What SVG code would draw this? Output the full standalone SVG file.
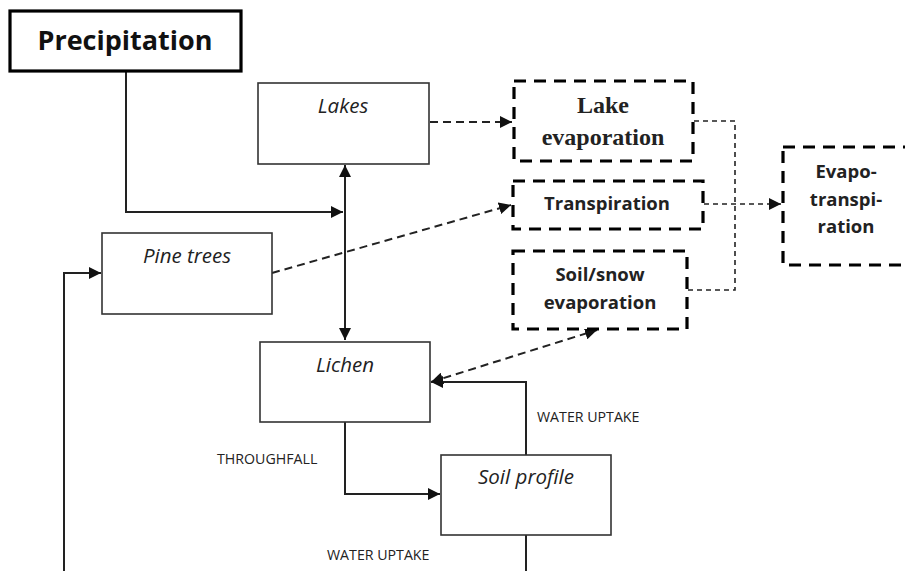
<svg xmlns="http://www.w3.org/2000/svg" width="905" height="571" viewBox="0 0 905 571">
<style>
.box{fill:#fff;stroke:#333;stroke-width:1.6}
.bold{fill:#fff;stroke:#000;stroke-width:3.2}
.dbox{fill:#fff;stroke:#000;stroke-width:3.2;stroke-dasharray:12 8}
.it{font-family:"Open Sans","Liberation Sans",sans-serif;font-style:italic;font-size:20.5px;fill:#222;text-anchor:middle}
.bs{font-family:"Open Sans","Liberation Sans",sans-serif;font-weight:bold;font-size:18.5px;fill:#222;text-anchor:middle}
.bt{font-family:"Liberation Serif",serif;font-weight:bold;font-size:24px;fill:#222;text-anchor:middle}
.lbl{font-family:"Open Sans","Liberation Sans",sans-serif;font-size:14.2px;fill:#222}
.ln{fill:none;stroke:#222;stroke-width:2}
.dl{fill:none;stroke:#222;stroke-width:2;stroke-dasharray:8 5}
.tl{fill:none;stroke:#222;stroke-width:1.6;stroke-dasharray:5 4}
</style>
<defs>
<marker id="ah" viewBox="0 0 10 10" refX="10" refY="5" markerWidth="12" markerHeight="12" markerUnits="userSpaceOnUse" orient="auto-start-reverse">
<path d="M0,0 L10,5 L0,10 z" fill="#111"/>
</marker>
</defs>
<g id="connectors">
<path class="ln" d="M126,71 V212 H343" marker-end="url(#ah)"/>
<path class="ln" d="M345,165 V340" marker-start="url(#ah)" marker-end="url(#ah)"/>
<path class="ln" d="M64,571 V273 H101" marker-end="url(#ah)"/>
<path class="ln" d="M345,422 V494 H440" marker-end="url(#ah)"/>
<path class="ln" d="M526,455 V382 H431" marker-end="url(#ah)"/>
<path class="ln" d="M526,535 V571"/>
<path class="dl" d="M430,122 H512" marker-end="url(#ah)"/>
<path class="dl" d="M272,273 L511,205" marker-end="url(#ah)"/>
<path class="dl" d="M431,382 L597,330" marker-start="url(#ah)" marker-end="url(#ah)"/>
<path class="tl" d="M694,121 H735 V290 H688"/>
<path class="tl" d="M704,204 H781" marker-end="url(#ah)"/>
</g>
<g id="precipitation">
<rect class="bold" x="10" y="11" width="231" height="60"/>
<text x="125" y="50" font-family="'Open Sans','Liberation Sans',sans-serif" font-weight="bold" font-size="27" fill="#111" text-anchor="middle">Precipitation</text>
</g>
<g id="lakes">
<rect class="box" x="258" y="83" width="171" height="81"/>
<text class="it" x="343" y="113">Lakes</text>
</g>
<g id="pine-trees">
<rect class="box" x="102" y="233" width="170" height="81"/>
<text class="it" x="187" y="263">Pine trees</text>
</g>
<g id="lichen">
<rect class="box" x="260" y="342" width="170" height="80"/>
<text class="it" x="345" y="372">Lichen</text>
</g>
<g id="soil-profile">
<rect class="box" x="441" y="455" width="170" height="80"/>
<text class="it" x="526" y="484">Soil profile</text>
</g>
<g id="lake-evaporation">
<rect class="dbox" x="514" y="81" width="179" height="80"/>
<text class="bt" x="603" y="113">Lake</text>
<text class="bt" x="603" y="145">evaporation</text>
</g>
<g id="transpiration">
<rect class="dbox" x="513" y="181" width="190" height="48"/>
<text class="bs" x="607" y="210">Transpiration</text>
</g>
<g id="soil-snow-evaporation">
<rect class="dbox" x="513" y="251" width="174" height="78"/>
<text class="bs" x="600" y="281">Soil/snow</text>
<text class="bs" x="600" y="309">evaporation</text>
</g>
<g id="evapotranspiration">
<rect class="dbox" x="783" y="147" width="140" height="118"/>
<text class="bs" x="846" y="178" font-size="16.5">Evapo-</text>
<text class="bs" x="846" y="206" font-size="16.5">transpi-</text>
<text class="bs" x="846" y="233" font-size="16.5">ration</text>
</g>
<g id="labels">
<text class="lbl" x="217" y="464">THROUGHFALL</text>
<text class="lbl" x="537" y="422">WATER UPTAKE</text>
<text class="lbl" x="327" y="560">WATER UPTAKE</text>
</g>
</svg>
